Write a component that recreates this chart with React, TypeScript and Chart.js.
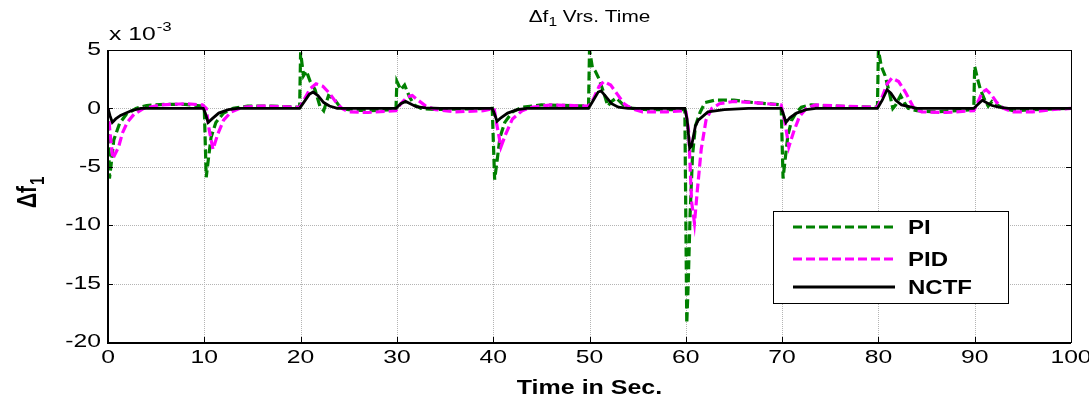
import React, { useEffect, useRef } from "react";
import { Chart, registerables } from "chart.js";

Chart.register(...registerables);

const FONT = '"Liberation Sans", Arial, Helvetica, sans-serif';
const SX = 1.3;

const xTicks = [0, 10, 20, 30, 40, 50, 60, 70, 80, 90, 100];
const yTicks = [5, 0, -5, -10, -15, -20];
const seriesNames = ["PI", "PID", "NCTF"];
const seriesColors = ["#008000", "#ff00ff", "#000000"];

const piTime = [
  0, 0.15, 0.3, 0.6, 1.2, 1.9, 2.9, 4, 6, 8, 9.8,
  10.0, 10.2, 10.4, 10.7, 11.2, 12, 13, 14.5, 17, 19.9,
  20.0, 20.3, 20.6, 21.0, 21.5, 22.0, 22.4, 22.9, 23.5, 24.2, 25, 27, 29.9,
  30.0, 30.4, 30.8, 31.3, 31.8, 32.5, 34, 39.9,
  40.15, 40.4, 40.7, 41.2, 42, 43, 45, 49.9,
  50.0, 50.3, 50.6, 51.0, 51.5, 51.9, 52.3, 52.8, 53.5, 54.5, 56, 59.9,
  60.1, 60.25, 60.45, 60.7, 61.0, 61.5, 62, 63, 65, 67, 69.9,
  70.1, 70.3, 70.6, 71, 71.5, 72, 73, 75, 79.9,
  80.0, 80.3, 80.7, 81.1, 81.5, 81.8, 82.3, 82.7, 83.1, 84, 86, 89.9,
  90.0, 90.3, 90.6, 91.0, 91.4, 91.8, 92.3, 93, 94, 96, 100,
];
const piValues = [
  0, -6, -5, -2.7, -1.3, -0.5, 0, 0.25, 0.35, 0.35, 0.2,
  0, -5.9, -4.5, -2.5, -1.2, -0.4, 0, 0.2, 0.2, 0.1,
  4.8, 2.8, 3.2, 2.3, 1.6, 0.2, -0.2, 1.1, 0.8, 0, -0.1, -0.2, -0.1,
  2.3, 1.6, 2.0, 1.0, 0.3, 0, -0.1, 0,
  -6.1, -4.5, -2.5, -1.2, -0.3, 0.1, 0.3, 0.2,
  5.0, 3.5, 3.2, 2.5, 1.3, 0.2, 0.6, 0.9, 0.3, 0, -0.1, -0.1,
  -18.4, -15, -9, -4, -1.5, -0.3, 0.5, 0.7, 0.7, 0.5, 0.3,
  -6, -4.5, -2.3, -1.0, -0.3, 0.1, 0.3, 0.2, 0.1,
  5.0, 3.6, 2.8, 1.5, 0, 0.3, 1.1, 0.5, 0, -0.2, -0.3, -0.1,
  3.6, 2.5, 1.6, 0.8, 0.2, 0.6, 0.3, 0, -0.2, -0.1, 0,
];

const pidTime = [
  0, 0.2, 0.5, 1.1, 1.5, 2.0, 2.7, 3.7, 5.5, 8, 9.8,
  10.2, 10.5, 10.9, 11.4, 12, 12.8, 14, 16, 19.9,
  20.4, 21.0, 21.6, 22.3, 23.0, 23.7, 24.3, 25, 27, 29.9,
  30.4, 31.1, 31.6, 32.2, 33, 34, 36, 39,
  40.1, 40.4, 40.8, 41.3, 42, 43, 44, 46, 49.9,
  50.4, 51.0, 51.5, 52.2, 52.9, 53.6, 54.3, 55.5, 58, 60.0,
  60.3, 60.6, 60.9, 61.2, 61.6, 62.1, 62.7, 63.5, 65, 67, 69.9,
  70.3, 70.7, 71.2, 71.8, 72.5, 73.5, 76, 79.9,
  80.4, 80.9, 81.4, 82.1, 82.8, 83.7, 84.5, 87, 89.9,
  90.3, 90.8, 91.2, 91.7, 92.3, 93, 94, 96, 98, 100,
];
const pidValues = [
  0, -2, -4.3, -3.3, -2.1, -1.2, -0.5, 0, 0.3, 0.4, 0.3,
  0, -1.8, -3.5, -2.2, -1.0, -0.3, 0.1, 0.2, 0.1,
  0.8, 1.7, 2.1, 1.9, 1.3, 0.5, 0, -0.3, -0.35, -0.2,
  0.4, 1.0, 1.1, 0.7, 0.2, -0.1, -0.3, -0.2,
  0, -1.5, -3.3, -2.2, -0.9, -0.2, 0.1, 0.3, 0.2,
  0.8, 1.9, 2.3, 2.0, 1.2, 0.4, 0, -0.3, -0.3, -0.2,
  -2, -8, -9.8, -7, -3.5, -1, 0, 0.4, 0.6, 0.5, 0.3,
  -1.2, -3.3, -2, -0.7, 0, 0.3, 0.2, 0.1,
  1.0, 2.1, 2.6, 2.3, 1.4, 0, -0.3, -0.35, -0.2,
  0.5, 1.4, 1.6, 1.2, 0.5, 0, -0.3, -0.3, -0.1, 0,
];

const nctfTime = [
  0, 0.2, 0.45, 0.8, 1.3, 2.4, 3.4, 9.9,
  10.1, 10.4, 10.8, 11.5, 12.5, 13.5, 19.9,
  20.4, 20.9, 21.3, 21.8, 22.4, 23, 23.8, 29.9,
  30.4, 30.9, 31.4, 32, 33, 34.5, 39.9,
  40.1, 40.4, 40.8, 41.5, 42.5, 43.5, 49.9,
  50.4, 50.9, 51.2, 51.7, 52.3, 53, 54, 59.9,
  60.15, 60.4, 60.6, 61.0, 61.3, 62.3, 64, 66.5, 69.9,
  70.1, 70.4, 70.8, 71.5, 72.5, 73.5, 79.9,
  80.4, 80.9, 81.3, 81.8, 82.4, 84, 89.9,
  90.4, 90.8, 91.2, 91.8, 92.5, 93.5, 100,
];
const nctfValues = [
  0, -0.6, -1.2, -0.9, -0.6, -0.2, 0, 0,
  -0.4, -1.2, -0.9, -0.4, -0.1, 0, 0,
  0.6, 1.2, 1.4, 1.1, 0.5, 0.2, 0, 0,
  0.4, 0.6, 0.4, 0.15, 0.05, 0, 0,
  -0.4, -1.1, -0.8, -0.4, -0.1, 0, 0,
  0.7, 1.4, 1.5, 1.0, 0.4, 0.1, 0, 0,
  -1, -3.4, -3.2, -1.5, -1, -0.3, -0.1, 0, 0,
  -0.4, -1.2, -0.8, -0.4, -0.1, 0, 0,
  0.7, 1.6, 1.3, 0.7, 0.3, 0, 0,
  0.4, 0.7, 0.5, 0.25, 0.1, 0, 0,
];

const toXY = (t: number[], v: number[]) => t.map((x, i) => ({ x, y: v[i] }));

function stretchedText(
  ctx: CanvasRenderingContext2D,
  text: string,
  x: number,
  y: number,
  font: string,
  align: CanvasTextAlign,
  baseline: CanvasTextBaseline,
  sx: number = SX
) {
  ctx.save();
  ctx.font = font;
  ctx.textAlign = align;
  ctx.textBaseline = baseline;
  ctx.fillStyle = "#000";
  ctx.translate(x, y);
  ctx.scale(sx, 1);
  ctx.fillText(text, 0, 0);
  ctx.restore();
}

const decorPlugin = {
  id: "decor",
  beforeDraw(chart: any) {
    const ctx = chart.ctx as CanvasRenderingContext2D;
    ctx.save();
    ctx.fillStyle = "#fff";
    ctx.fillRect(0, 0, chart.width, chart.height);
    ctx.restore();
  },
  beforeDatasetsDraw(chart: any) {
    const ctx = chart.ctx as CanvasRenderingContext2D;
    const { left, right, top, bottom } = chart.chartArea;
    const xs = chart.scales.x;
    const ys = chart.scales.y;
    ctx.save();
    ctx.strokeStyle = "#b4b4b4";
    ctx.lineWidth = 1;
    ctx.setLineDash([1, 1]);
    xTicks.forEach((v) => {
      const px = Math.round(xs.getPixelForValue(v)) + 0.5;
      ctx.beginPath();
      ctx.moveTo(px, top);
      ctx.lineTo(px, bottom);
      ctx.stroke();
    });
    yTicks.forEach((v) => {
      const py = Math.round(ys.getPixelForValue(v)) + 0.5;
      ctx.beginPath();
      ctx.moveTo(left, py);
      ctx.lineTo(right, py);
      ctx.stroke();
    });
    ctx.restore();
  },
  afterDraw(chart: any) {
    const ctx = chart.ctx as CanvasRenderingContext2D;
    const { left, right, top, bottom } = chart.chartArea;
    const xs = chart.scales.x;
    const ys = chart.scales.y;
    const cx = (left + right) / 2;

    // axes box
    ctx.save();
    ctx.strokeStyle = "#000";
    ctx.lineWidth = 1;
    ctx.strokeRect(Math.round(left) + 0.5, Math.round(top) + 0.5, Math.round(right - left), Math.round(bottom - top));
    ctx.lineWidth = 2;
    ctx.beginPath();
    ctx.moveTo(Math.round(left), top);
    ctx.lineTo(Math.round(left), bottom + 1);
    ctx.lineTo(right, bottom + 1);
    ctx.stroke();
    ctx.lineWidth = 1;
    xTicks.forEach((v) => {
      const px = Math.round(xs.getPixelForValue(v)) + 0.5;
      ctx.beginPath();
      ctx.moveTo(px, bottom);
      ctx.lineTo(px, bottom - 5);
      ctx.moveTo(px, top);
      ctx.lineTo(px, top + 5);
      ctx.stroke();
    });
    yTicks.forEach((v) => {
      const py = Math.round(ys.getPixelForValue(v)) + 0.5;
      ctx.beginPath();
      ctx.moveTo(left, py);
      ctx.lineTo(left + 5, py);
      ctx.moveTo(right, py);
      ctx.lineTo(right - 5, py);
      ctx.stroke();
    });
    ctx.restore();

    // tick labels
    xTicks.forEach((v) => {
      stretchedText(ctx, String(v), xs.getPixelForValue(v), bottom + 16, `19px ${FONT}`, "center", "middle");
    });
    yTicks.forEach((v) => {
      stretchedText(ctx, String(v), left - 7, ys.getPixelForValue(v), `19px ${FONT}`, "right", "middle");
    });

    // exponent label
    stretchedText(ctx, "x 10", left + 1, top - 10, `19px ${FONT}`, "left", "alphabetic");
    ctx.save();
    ctx.font = `19px ${FONT}`;
    const w10 = ctx.measureText("x 10").width * SX;
    ctx.restore();
    stretchedText(ctx, "-3", left + 2 + w10, top - 19, `13px ${FONT}`, "left", "alphabetic");

    // title
    ctx.save();
    ctx.font = `16px ${FONT}`;
    const wA = ctx.measureText("\u0394f").width * SX;
    const wC = ctx.measureText(" Vrs. Time").width * SX;
    ctx.font = `12px ${FONT}`;
    const wB = ctx.measureText("1").width * SX;
    ctx.restore();
    const tx = cx - (wA + wB + wC) / 2;
    stretchedText(ctx, "\u0394f", tx, 22, `16px ${FONT}`, "left", "alphabetic");
    stretchedText(ctx, "1", tx + wA, 26, `12px ${FONT}`, "left", "alphabetic");
    stretchedText(ctx, " Vrs. Time", tx + wA + wB, 22, `16px ${FONT}`, "left", "alphabetic");

    // x label
    stretchedText(ctx, "Time in Sec.", cx, bottom + 46, `bold 20px ${FONT}`, "center", "middle", 1.25);

    // y label (rotated)
    ctx.save();
    ctx.translate(36, (top + bottom) / 2 + 12);
    ctx.scale(1.3, 1);
    ctx.rotate(-Math.PI / 2);
    ctx.fillStyle = "#000";
    ctx.textBaseline = "alphabetic";
    ctx.textAlign = "left";
    ctx.font = `bold 21px ${FONT}`;
    ctx.fillText("\u0394f", 0, 0);
    const wy = ctx.measureText("\u0394f").width;
    ctx.font = `bold 15px ${FONT}`;
    ctx.fillText("1", wy + 1, 6);
    ctx.restore();

    // legend
    const lx = 773, ly = 211, lw = 235, lh = 92;
    ctx.save();
    ctx.fillStyle = "#fff";
    ctx.fillRect(lx, ly, lw, lh);
    ctx.strokeStyle = "#000";
    ctx.lineWidth = 1;
    ctx.strokeRect(lx + 0.5, ly + 0.5, lw, lh);
    const rows = [227, 259, 287];
    const dashes = [[9, 4], [9, 4], []];
    const widths = [3, 3, 2.8];
    seriesNames.forEach((name, i) => {
      ctx.save();
      ctx.strokeStyle = seriesColors[i];
      ctx.lineWidth = widths[i];
      ctx.setLineDash(dashes[i]);
      ctx.beginPath();
      ctx.moveTo(793, rows[i]);
      ctx.lineTo(895, rows[i]);
      ctx.stroke();
      ctx.restore();
      stretchedText(ctx, name, 908, rows[i] + 1, `bold 20px ${FONT}`, "left", "middle", 1.2);
    });
    ctx.restore();
  },
};

export default function App() {
  const ref = useRef<HTMLCanvasElement>(null);
  useEffect(() => {
    document.body.style.margin = "0";
    const canvas = ref.current;
    if (!canvas) return;
    const chart = new Chart(canvas, {
      type: "line",
      data: {
        datasets: [
          {
            label: seriesNames[0],
            data: toXY(piTime, piValues),
            borderColor: seriesColors[0],
            borderWidth: 3.2,
            borderDash: [9, 4],
            pointRadius: 0,
            tension: 0,
            fill: false,
            order: 2,
          },
          {
            label: seriesNames[1],
            data: toXY(pidTime, pidValues),
            borderColor: seriesColors[1],
            borderWidth: 3.2,
            borderDash: [9, 4],
            pointRadius: 0,
            tension: 0,
            fill: false,
            order: 1,
          },
          {
            label: seriesNames[2],
            data: toXY(nctfTime, nctfValues),
            borderColor: seriesColors[2],
            borderWidth: 2.8,
            pointRadius: 0,
            tension: 0,
            fill: false,
            order: 0,
          },
        ],
      },
      options: {
        responsive: false,
        animation: false,
        events: [],
        layout: { padding: { left: 108, top: 50, right: 18, bottom: 56 } },
        plugins: { legend: { display: false }, title: { display: false }, tooltip: { enabled: false } },
        scales: {
          x: { type: "linear", min: 0, max: 100, display: false },
          y: { type: "linear", min: -20, max: 5, display: false },
        },
      },
      plugins: [decorPlugin],
    });
    return () => chart.destroy();
  }, []);
  return (
    <div style={{ width: 1089, height: 398 }}>
      <canvas ref={ref} width={1089} height={398} style={{ display: "block" }} />
    </div>
  );
}
